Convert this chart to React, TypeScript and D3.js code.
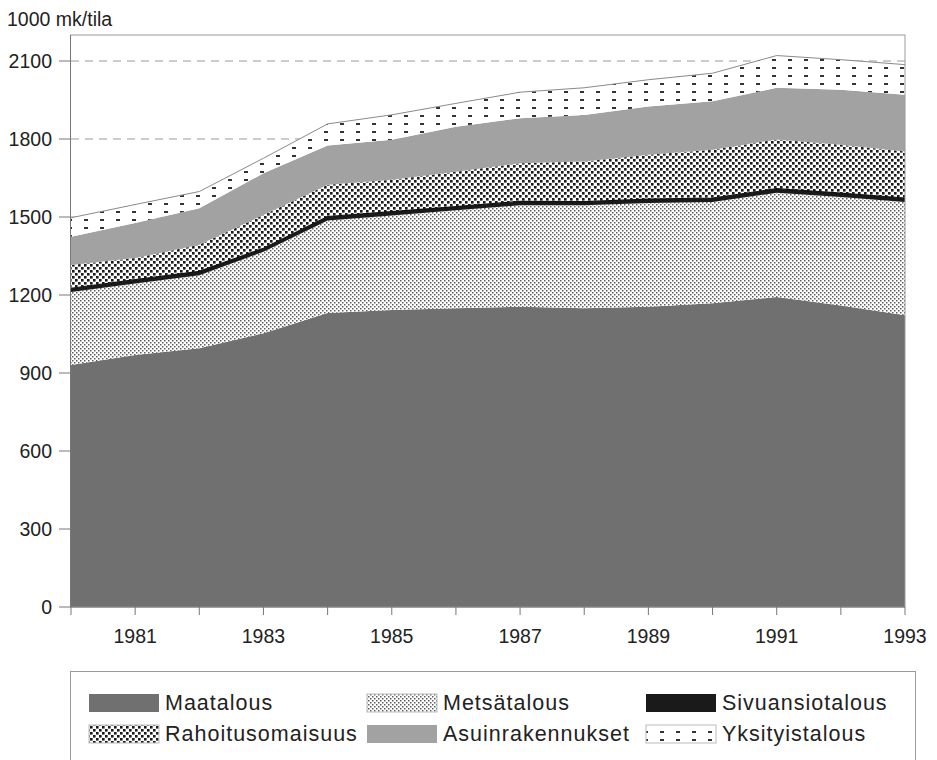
import React from "react";
import * as d3 from "d3";

const years = [1980, 1981, 1982, 1983, 1984, 1985, 1986, 1987, 1988, 1989, 1990, 1991, 1992, 1993];
const maatalous = [931, 969, 995, 1053, 1131, 1142, 1149, 1155, 1149, 1155, 1168, 1192, 1160, 1122];
const metsatalous = [281, 275, 281, 313, 356, 364, 377, 390, 396, 399, 390, 401, 417, 436];
const sivuansiotalous = [14, 15, 15, 14, 15, 15, 14, 15, 14, 15, 15, 16, 15, 15];
const rahoitusomaisuus = [89, 83, 102, 128, 122, 122, 134, 147, 154, 170, 186, 189, 186, 179];
const asuinrakennukset = [109, 135, 141, 160, 151, 154, 173, 173, 179, 186, 186, 199, 211, 218];
const yksityistalous = [73, 71, 64, 58, 83, 96, 90, 100, 105, 103, 108, 124, 116, 116];

const seriesNames = ["Maatalous", "Metsätalous", "Sivuansiotalous", "Rahoitusomaisuus", "Asuinrakennukset", "Yksityistalous"];
const yTicks = [0, 300, 600, 900, 1200, 1500, 1800, 2100];
const xTickLabels = [1981, 1983, 1985, 1987, 1989, 1991, 1993];
const yTitle = "1000 mk/tila";

const fills: Record<string, string> = {
  Maatalous: "#707070",
  "Metsätalous": "url(#pMets)",
  Sivuansiotalous: "#1a1a1a",
  Rahoitusomaisuus: "url(#pRah)",
  Asuinrakennukset: "#a2a2a2",
  Yksityistalous: "url(#pYks)",
};

export default function App() {
  const left = 71, right = 905, top = 35, bottom = 607;
  const x = d3.scaleLinear().domain([1980, 1993]).range([left, right]);
  const y = d3.scaleLinear().domain([0, 2200]).range([bottom, top]);

  const rows = years.map((yr, i) => ({
    year: yr,
    Maatalous: maatalous[i],
    "Metsätalous": metsatalous[i],
    Sivuansiotalous: sivuansiotalous[i],
    Rahoitusomaisuus: rahoitusomaisuus[i],
    Asuinrakennukset: asuinrakennukset[i],
    Yksityistalous: yksityistalous[i],
  }));
  const stack = d3.stack<any>().keys(seriesNames);
  const layers = stack(rows);
  const area = d3
    .area<any>()
    .x((d) => x(d.data.year))
    .y0((d) => y(d[0]))
    .y1((d) => y(d[1]));
  const topLine = d3
    .line<any>()
    .x((d) => x(d.data.year))
    .y((d) => y(d[1]));

  const font = "'Liberation Sans', Arial, Helvetica, sans-serif";

  const legendItems = [
    { name: "Maatalous", sx: 89, row: 0 },
    { name: "Metsätalous", sx: 367, row: 0 },
    { name: "Sivuansiotalous", sx: 646, row: 0 },
    { name: "Rahoitusomaisuus", sx: 89, row: 1 },
    { name: "Asuinrakennukset", sx: 367, row: 1 },
    { name: "Yksityistalous", sx: 646, row: 1 },
  ];
  const rowY = [694, 725];

  return (
    <svg
      width={937}
      height={760}
      style={{ position: "absolute", left: 0, top: 0, background: "#fff" }}
      fontFamily={font}
    >
      <defs>
        <pattern id="pMets" width={4} height={4} patternUnits="userSpaceOnUse">
          <rect width={4} height={4} fill="#fff" />
          <rect x={0} y={0} width={1.5} height={1.5} fill="#5c5c5c" />
          <rect x={2} y={2} width={1.5} height={1.5} fill="#5c5c5c" />
        </pattern>
        <pattern id="pRah" width={6} height={6} patternUnits="userSpaceOnUse">
          <rect width={6} height={6} fill="#fff" />
          <rect x={0} y={0} width={2.6} height={2.6} fill="#1a1a1a" />
          <rect x={3} y={3} width={2.6} height={2.6} fill="#1a1a1a" />
        </pattern>
        <pattern id="pYks" width={16} height={8} patternUnits="userSpaceOnUse">
          <rect width={16} height={8} fill="#fff" />
          <rect x={4} y={3} width={4} height={2} fill="#333" />
        </pattern>
      </defs>

      <text x={7} y={26} fontSize={19.5} fill="#222">
        {yTitle}
      </text>

      {/* gridlines */}
      {yTicks
        .filter((t) => t > 0)
        .map((t) => (
          <line
            key={"g" + t}
            x1={left}
            x2={right}
            y1={y(t)}
            y2={y(t)}
            stroke="#9a9a9a"
            strokeWidth={1}
            strokeDasharray="8,6"
          />
        ))}

      {/* areas */}
      {layers.map((layer) => (
        <path key={layer.key} d={area(layer) || ""} fill={fills[layer.key]} stroke="none" />
      ))}
      <path d={topLine(layers[2]) || ""} fill="none" stroke="#111" strokeWidth={1.2} />
      <path d={topLine(layers[5]) || ""} fill="none" stroke="#8a8a8a" strokeWidth={1} />

      {/* frame */}
      <rect x={left - 0.5} y={top} width={right - left + 0.5} height={bottom - top} fill="none" stroke="#9a9a9a" strokeWidth={1} />
      <line x1={left - 0.5} x2={left - 0.5} y1={top} y2={bottom} stroke="#777" strokeWidth={1} />
      <line x1={left - 0.5} x2={right} y1={bottom} y2={bottom} stroke="#777" strokeWidth={1} />

      {/* y axis ticks */}
      {yTicks.map((t) => (
        <g key={"y" + t}>
          <line x1={left - 12} x2={left} y1={y(t)} y2={y(t)} stroke="#777" strokeWidth={1} />
          <text x={52} y={y(t) + 7} fontSize={19.5} textAnchor="end" fill="#222">
            {t}
          </text>
        </g>
      ))}

      {/* x axis ticks */}
      {years.map((yr) => (
        <line key={"xt" + yr} x1={x(yr)} x2={x(yr)} y1={bottom} y2={bottom + 8} stroke="#777" strokeWidth={1} />
      ))}
      {xTickLabels.map((yr) => (
        <text key={"xl" + yr} x={x(yr)} y={643} fontSize={19.5} textAnchor="middle" fill="#222">
          {yr}
        </text>
      ))}

      {/* legend */}
      <rect x={70.5} y={671.5} width={845} height={120} fill="none" stroke="#9a9a9a" strokeWidth={1} />
      {legendItems.map((it) => {
        const sy = rowY[it.row];
        const patterned = it.name === "Metsätalous" || it.name === "Rahoitusomaisuus" || it.name === "Yksityistalous";
        return (
          <g key={"lg" + it.name}>
            <rect
              x={it.sx}
              y={sy}
              width={70}
              height={18}
              fill={fills[it.name]}
              stroke={patterned ? "#bbb" : "none"}
              strokeWidth={1}
            />
            <text x={it.sx + 76} y={sy + 16} fontSize={21.5} letterSpacing={1} fill="#222">
              {it.name}
            </text>
          </g>
        );
      })}
    </svg>
  );
}
